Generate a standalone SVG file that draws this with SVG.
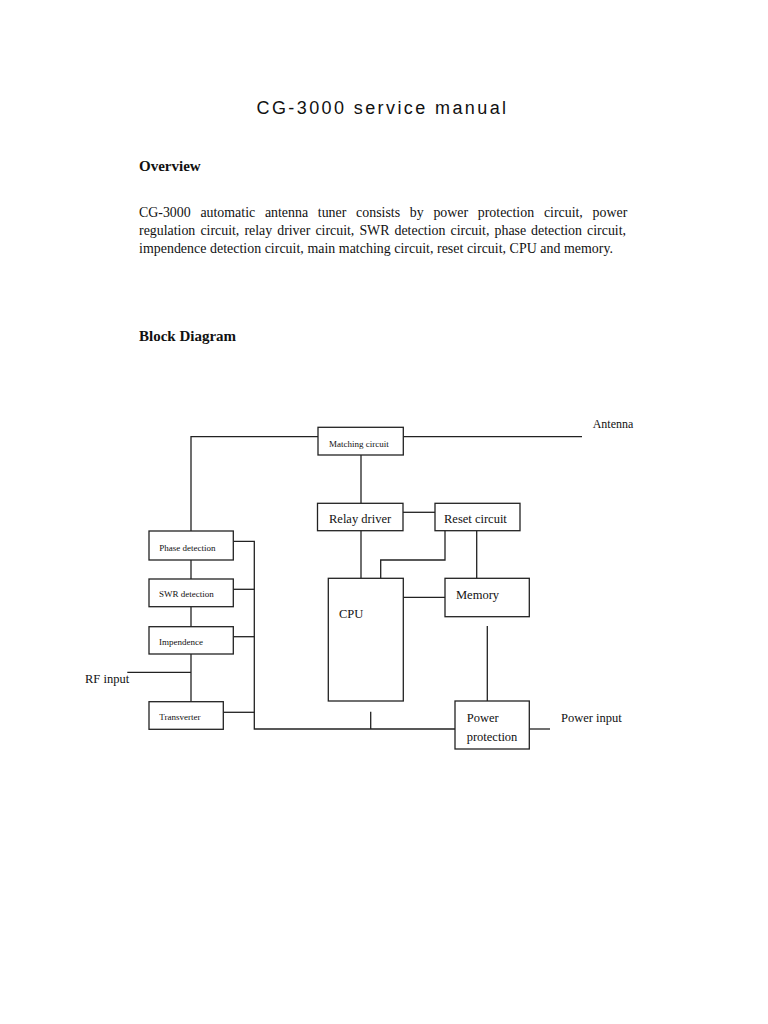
<svg xmlns="http://www.w3.org/2000/svg" width="768" height="1024" viewBox="0 0 768 1024">
<style>
.bx{fill:#fff;stroke:#222;stroke-width:1.3}
.ln{fill:none;stroke:#222;stroke-width:1.3}
.t{font-family:"Liberation Serif","Times New Roman",serif;fill:#111}
.s{font-size:9px}
.m{font-size:12.5px}
.p{font-size:13.9px}
.h{font-size:15px;font-weight:bold}
</style>
<rect width="768" height="1024" fill="#fff"/>
<text x="382.5" y="114" text-anchor="middle" font-family="'Liberation Sans',Arial,sans-serif" font-size="18" letter-spacing="2.4" fill="#111">CG-3000 service manual</text>
<text class="t h" x="139" y="170.5">Overview</text>
<text class="t p" y="217"><tspan x="139">CG-3000</tspan><tspan x="200.4">automatic</tspan><tspan x="264.9">antenna</tspan><tspan x="317.8">tuner</tspan><tspan x="356.1">consists</tspan><tspan x="409.8">by</tspan><tspan x="433.4">power</tspan><tspan x="477.8">protection</tspan><tspan x="543.9">circuit,</tspan><tspan x="592.6">power</tspan></text>
<text class="t p" y="235"><tspan x="139">regulation</tspan><tspan x="200.4">circuit,</tspan><tspan x="244.4">relay</tspan><tspan x="277.2">driver</tspan><tspan x="315.4">circuit,</tspan><tspan x="359.4">SWR</tspan><tspan x="394.5">detection</tspan><tspan x="450.5">circuit,</tspan><tspan x="494.5">phase</tspan><tspan x="531.1">detection</tspan><tspan x="587.1">circuit,</tspan></text>
<text class="t p" x="139" y="253.3" textLength="474" lengthAdjust="spacing">impendence detection circuit, main matching circuit, reset circuit, CPU and memory.</text>
<text class="t h" x="139" y="341">Block Diagram</text>

<g id="connectors">
<polyline class="ln" points="318,436.7 191,436.7 191,531"/>
<line class="ln" x1="403" y1="436.7" x2="582" y2="436.7"/>
<line class="ln" x1="361" y1="455" x2="361" y2="503.3"/>
<line class="ln" x1="403" y1="512.3" x2="435" y2="512.3"/>
<line class="ln" x1="361" y1="530.7" x2="361" y2="578.3"/>
<polyline class="ln" points="445,530.7 445,560 380.7,560 380.7,578.3"/>
<line class="ln" x1="476.7" y1="530.7" x2="476.7" y2="578.3"/>
<line class="ln" x1="403" y1="597.3" x2="445" y2="597.3"/>
<line class="ln" x1="487.3" y1="626" x2="487.3" y2="701"/>
<line class="ln" x1="191" y1="560" x2="191" y2="579"/>
<line class="ln" x1="191" y1="606.7" x2="191" y2="626.7"/>
<line class="ln" x1="191" y1="654" x2="191" y2="701.7"/>
<line class="ln" x1="127.3" y1="672.3" x2="191" y2="672.3"/>
<polyline class="ln" points="233.3,541.3 254.3,541.3 254.3,729 455,729"/>
<line class="ln" x1="233.3" y1="589.3" x2="254.3" y2="589.3"/>
<line class="ln" x1="233.3" y1="636.7" x2="254.3" y2="636.7"/>
<line class="ln" x1="223.3" y1="712.3" x2="254.3" y2="712.3"/>
<line class="ln" x1="370.7" y1="711.7" x2="370.7" y2="729"/>
<line class="ln" x1="529.3" y1="729" x2="550" y2="729"/>
</g>

<g id="matching"><rect class="bx" x="318" y="427.3" width="85.3" height="27.7"/><text class="t s" x="329" y="446.7">Matching circuit</text></g>
<g id="relay"><rect class="bx" x="317.5" y="503.3" width="85.5" height="27.4"/><text class="t m" x="329" y="523.3">Relay driver</text></g>
<g id="reset"><rect class="bx" x="435" y="503.3" width="85" height="27.4"/><text class="t m" x="444" y="523.3">Reset circuit</text></g>
<g id="cpu"><rect class="bx" x="328.3" y="578.3" width="75" height="122.7"/><text class="t m" x="339" y="618">CPU</text></g>
<g id="memory"><rect class="bx" x="445" y="578.3" width="84.3" height="38.4"/><text class="t m" x="456" y="599">Memory</text></g>
<g id="phase"><rect class="bx" x="149" y="531" width="84.3" height="29"/><text class="t s" x="159.3" y="550.7">Phase detection</text></g>
<g id="swr"><rect class="bx" x="149" y="579" width="84.3" height="27.7"/><text class="t s" x="159" y="597.3">SWR detection</text></g>
<g id="impendence"><rect class="bx" x="149" y="626.7" width="84.3" height="27.3"/><text class="t s" x="159" y="645">Impendence</text></g>
<g id="transverter"><rect class="bx" x="149" y="701.7" width="74.3" height="27.6"/><text class="t s" x="159.3" y="720">Transverter</text></g>
<g id="power"><rect class="bx" x="455" y="701" width="74.3" height="48"/><text class="t m" x="466.7" y="722">Power</text><text class="t m" x="466.7" y="741">protection</text></g>
<g id="labels">
<text class="t m" x="592.7" y="427.5" style="font-size:12px">Antenna</text>
<text class="t m" x="85" y="683">RF input</text>
<text class="t m" x="561" y="721.7">Power input</text>
</g>
</svg>
